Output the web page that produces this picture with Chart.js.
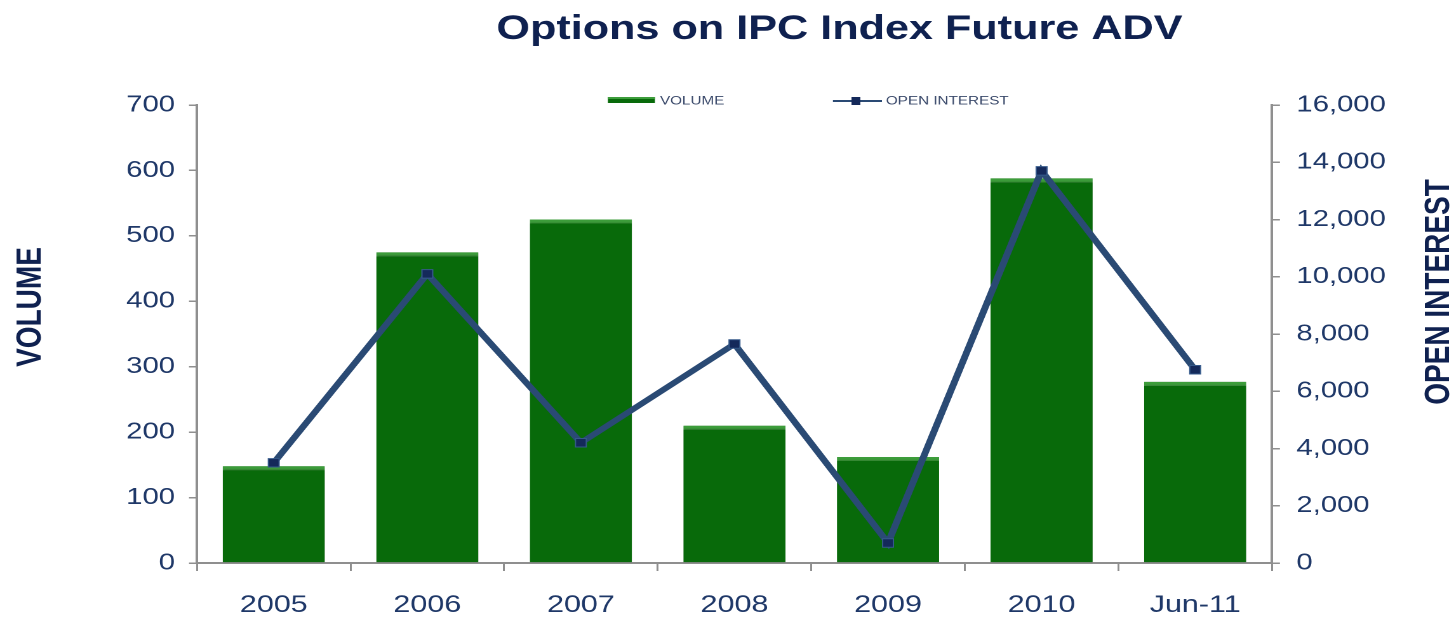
<!DOCTYPE html>
<html>
<head>
<meta charset="utf-8">
<script src="https://cdn.jsdelivr.net/npm/chart.js@4.4.1/dist/chart.umd.min.js"></script>
<style>
html,body{margin:0;padding:0;background:#fff;overflow:hidden}
#wrap{width:1454px;height:619px;overflow:hidden}
#chart{display:block;transform:scaleX(1.2699);transform-origin:0 0}
</style>
</head>
<body>
<div id="wrap"><canvas id="chart" width="1145" height="619"></canvas></div>
<script>
// data
const categories=["2005","2006","2007","2008","2009","2010","Jun-11"];
const volume=[148,475,525,210,162,588,277];
const openInterest=[3500,10100,4200,7650,700,13700,6750];

const volumeMin=0,volumeMax=700,volumeStep=100;
const oiMin=0,oiMax=16000,oiStep=2000;

const titleText="Options on IPC Index Future ADV";
const leftTitle="VOLUME";
const rightTitle="OPEN INTEREST";

const FONT="'Liberation Sans', Arial, sans-serif";
const navy="#0f2150";
const tickColor="#1f3868";
const axisGray="#8f8f8f";
const barGreen="#086a0a";
const barTop="#3d9d3b";
const lineBlue="#2a4a74";
const markBlue="#14295a";

const decor={
id:"decor",
beforeDatasetDraw(chart,args){
if(args.index===0){
const c=chart.ctx;
c.save();
c.shadowColor="rgba(0,0,0,.4)";
c.shadowBlur=4;
c.shadowOffsetX=1;
c.shadowOffsetY=0;
}
},
afterDatasetDraw(chart,args){
if(args.index===0) chart.ctx.restore();
},
afterDraw(chart){
const c=chart.ctx;
c.save();
// title
c.fillStyle=navy;
c.font="bold 34px "+FONT;
c.textAlign="center";
c.textBaseline="alphabetic";
c.fillText(titleText,661,39);
// axis titles
c.font="bold 28px "+FONT;
c.textBaseline="middle";
c.save();
c.translate(24.5,307);
c.rotate(-Math.PI/2);
c.fillText(leftTitle,0,0);
c.restore();
c.save();
c.translate(1133.5,292);
c.rotate(-Math.PI/2);
c.fillText(rightTitle,0,0);
c.restore();
// legend
const ds=chart.data.datasets;
c.font="12px "+FONT;
c.textAlign="left";
c.fillStyle=barGreen;
c.fillRect(478.7,97,37,6);
c.fillStyle=barTop;
c.fillRect(478.7,97,37,2);
c.fillStyle="#3b4a6b";
c.fillText(ds[0].label,519.7,101);
c.strokeStyle=lineBlue;
c.lineWidth=2;
c.beginPath();
c.moveTo(655.9,101);
c.lineTo(694.5,101);
c.stroke();
c.fillStyle=markBlue;
c.fillRect(670.5,97,7,8);
c.fillStyle="#3b4a6b";
c.fillText(ds[1].label,697.6,101);
c.restore();
}
};

new Chart(document.getElementById("chart"),{
type:"bar",
data:{
labels:categories,
datasets:[
{
label:"VOLUME",
data:volume,
yAxisID:"y",
order:1,
backgroundColor:barGreen,
borderColor:barTop,
borderWidth:{top:4,left:0,right:0,bottom:0},
borderSkipped:false,
barPercentage:0.665,
categoryPercentage:1
},
{
type:"line",
label:"OPEN INTEREST",
data:openInterest,
yAxisID:"y1",
order:0,
borderColor:lineBlue,
borderWidth:5.5,
pointStyle:"rect",
pointRadius:6,
pointBackgroundColor:markBlue,
pointBorderColor:"#35598a",
pointBorderWidth:1,
tension:0
}
]
},
options:{
responsive:false,
devicePixelRatio:2,
animation:false,
layout:{padding:{top:105,left:0,right:0,bottom:0}},
plugins:{
legend:{display:false},
title:{display:false},
tooltip:{enabled:false}
},
scales:{
x:{
offset:true,
grid:{offset:true,drawOnChartArea:false,drawTicks:true,tickLength:8,color:axisGray,lineWidth:1.5},
border:{display:true,color:axisGray,width:2},
ticks:{color:tickColor,font:{family:FONT,size:24},padding:20},
afterFit(s){s.height=56;}
},
y:{
position:"left",
min:volumeMin,
max:volumeMax,
ticks:{stepSize:volumeStep,color:tickColor,font:{family:FONT,size:23},padding:11},
grid:{drawOnChartArea:false,drawTicks:true,tickLength:6.3,color:axisGray,lineWidth:1.5},
border:{display:true,color:axisGray,width:2},
afterFit(s){s.width=155.1;}
},
y1:{
position:"right",
min:oiMin,
max:oiMax,
ticks:{stepSize:oiStep,color:tickColor,font:{family:FONT,size:23},padding:13,
callback:v=>v.toLocaleString("en-US")},
grid:{drawOnChartArea:false,drawTicks:true,tickLength:6.3,color:axisGray,lineWidth:1.5},
border:{display:true,color:axisGray,width:2},
afterFit(s){s.width=143.4;}
}
}
},
plugins:[decor]
});
</script>
</body>
</html>
